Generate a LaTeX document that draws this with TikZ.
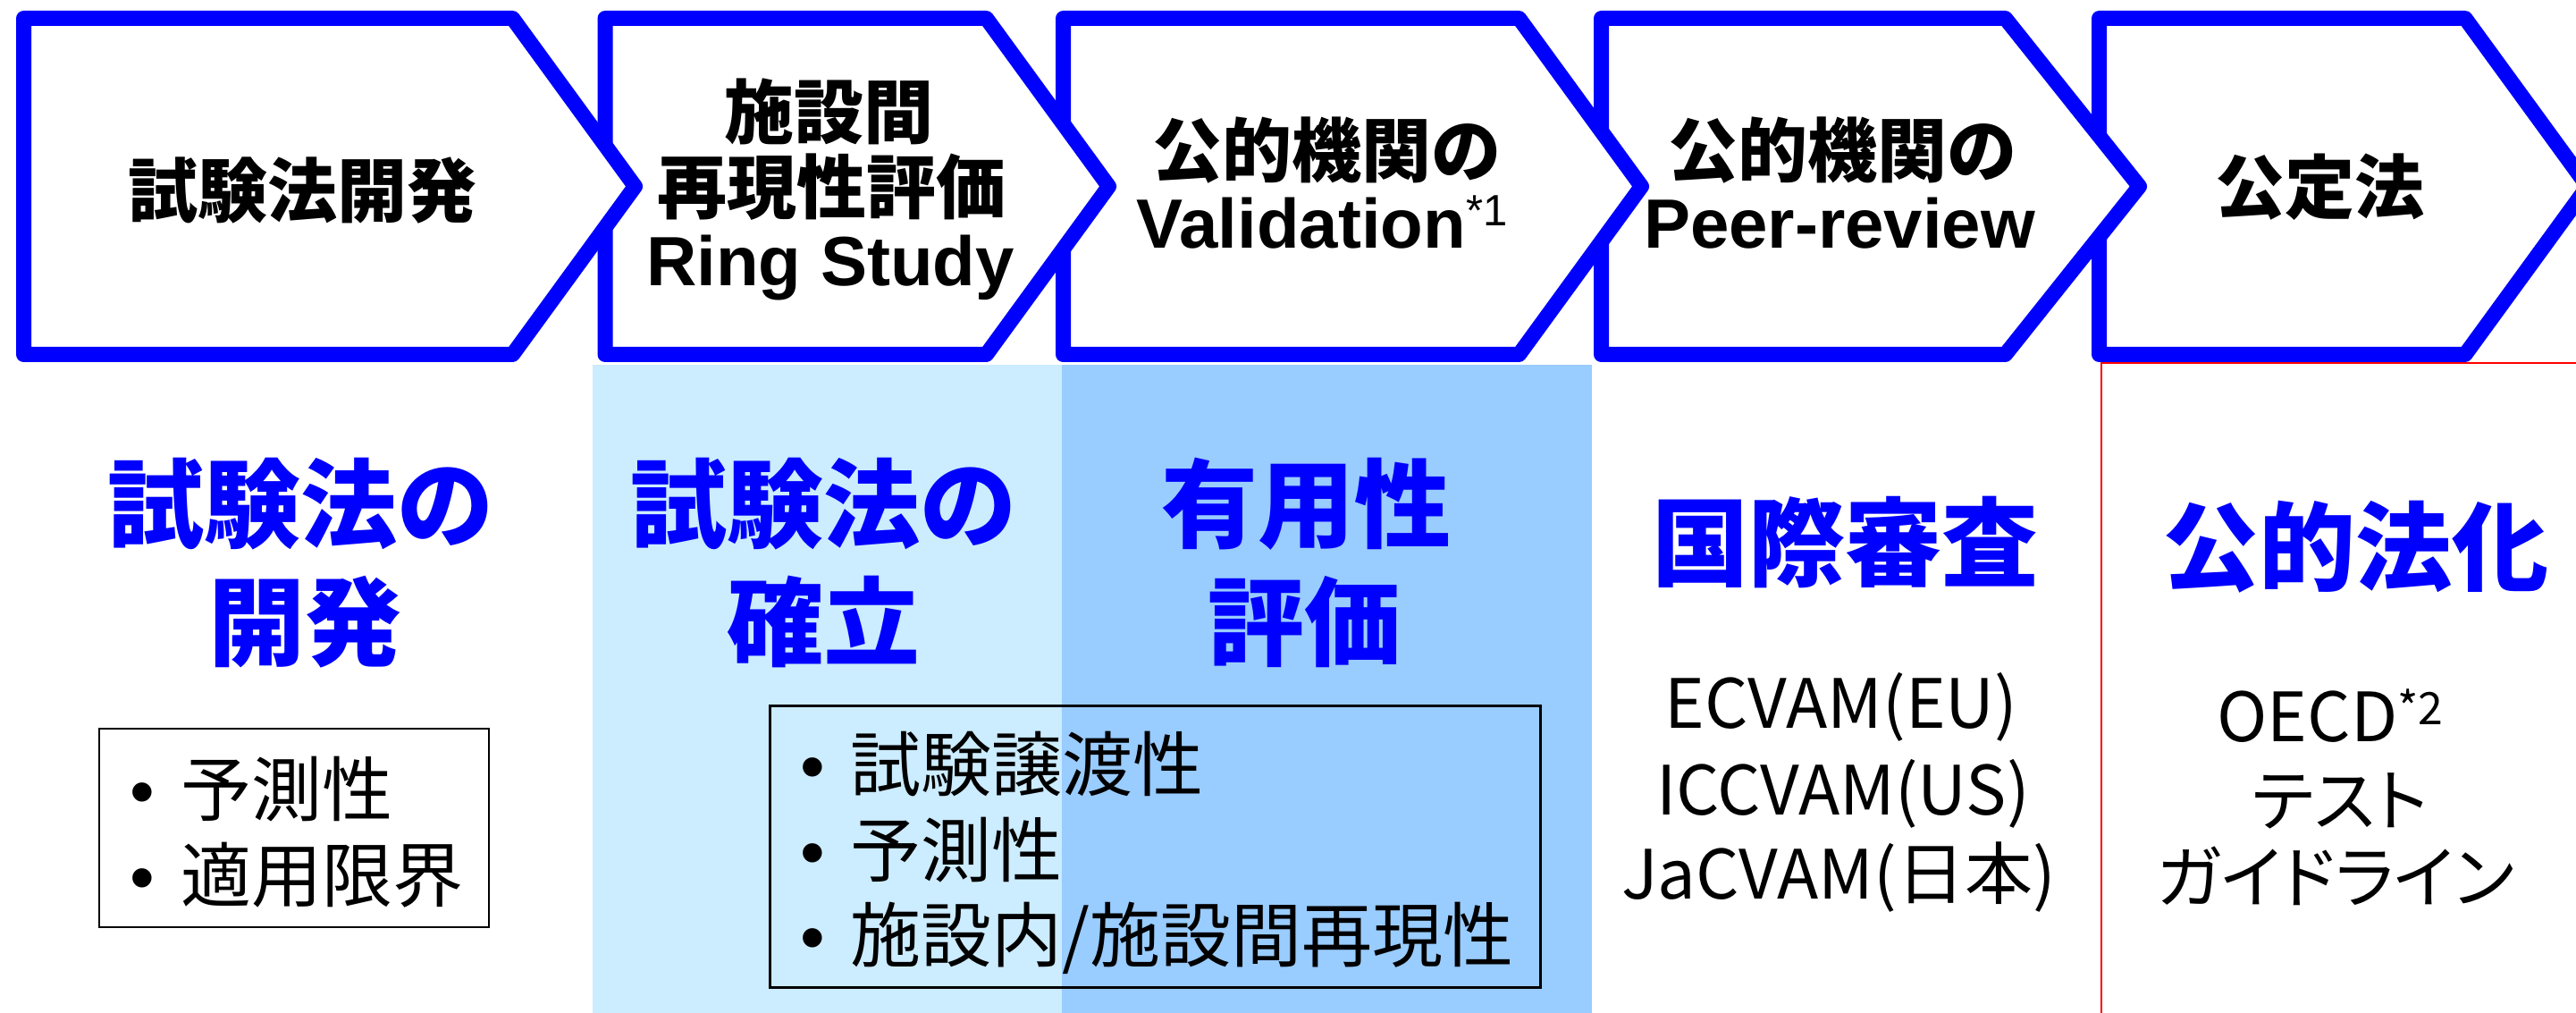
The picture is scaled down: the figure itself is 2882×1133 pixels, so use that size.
\documentclass[tikz,border=0pt]{standalone}
\usepackage{fontspec}
\setmainfont{Liberation Sans}
\newfontfamily\jp{Noto Sans CJK JP}
\newfontfamily\jpp{Noto Sans CJK JP}[RawFeature=+palt]
\definecolor{chevblue}{RGB}{0,0,255}
\definecolor{lightbg}{RGB}{204,236,255}
\definecolor{darkbg}{RGB}{153,204,255}
\newcommand\mychev[3]{\draw[chev] (#1,20.5) -- (#2,20.5) -- (#3,208.5) -- (#2,396.5) -- (#1,396.5) -- cycle;}
\tikzset{
  chev/.style={draw=chevblue, fill=white, line width=4.25pt, line join=round},
  hdjp/.style={anchor=base, inner sep=0pt, font=\jp\bfseries\fontsize{19.5pt}{20pt}\selectfont},
  hdlat/.style={anchor=base, inner sep=0pt, font=\bfseries\fontsize{19.5pt}{20pt}\selectfont},
  big/.style={anchor=base, inner sep=0pt, text=chevblue, font=\jp\bfseries\fontsize{27pt}{28pt}\selectfont},
  item/.style={anchor=base west, inner sep=0pt, font=\jp\fontsize{19.75pt}{20pt}\selectfont},
  bdot/.style={anchor=base, inner sep=0pt, font=\fontsize{19.75pt}{20pt}\selectfont},
  org/.style={anchor=base, inner sep=0pt, font=\jp\fontsize{19pt}{20pt}\selectfont},
  orgk/.style={anchor=base, inner sep=0pt, font=\jpp\fontsize{19pt}{20pt}\selectfont},
  listbox/.style={draw=black, fill=none, inner sep=0pt},
}
\begin{document}
\begin{tikzpicture}[x=0.25pt, y=-0.25pt]
\useasboundingbox (0,0) rectangle (2882,1133);
\clip (0,0) rectangle (2882,1133);
% backgrounds
\fill[lightbg] (662.5,408) rectangle (1188,1140);
\fill[darkbg] (1188,408) rectangle (1781,1140);
% red frame
\coordinate (r1) at (2351,1140);
\coordinate (r2) at (2351,406);
\coordinate (r3) at (2890,406);
\draw[red, line width=0.5pt] (r1) -- (r2) -- (r3);
% chevrons (right to left so the left one lies on top)
\mychev{2348.5}{2758}{2895}
\mychev{1791.5}{2243.5}{2393.5}
\mychev{1189.5}{1699.5}{1836.5}
\mychev{677}{1103.5}{1240.5}
\mychev{26.5}{573.5}{710.5}
% header texts
\node[hdjp] (h1) at (338,243) {試験法開発};
\node[hdjp] (h2a) at (927,155) {施設間};
\node[hdjp] (h2b) at (930,239) {再現性評価};
\node[hdlat] (h2c) at (929,320) {Ring Study};
\node[hdjp] (h3a) at (1484,198) {公的機関の};
\node[hdlat] (h3b) at (1479,278) {Validation\raisebox{6.25pt}{\mdseries\fontsize{12.25pt}{13pt}\selectfont *1}};
\node[hdjp] (h4a) at (2061,198) {公的機関の};
\node[hdlat] (h4b) at (2058,278) {Peer-review};
\node[hdjp] (h5) at (2595,239) {公定法};
% big blue texts
\node[big] (b1a) at (337,605) {試験法の};
\node[big] (b1b) at (341,737) {開発};
\node[big] (b2a) at (921,605) {試験法の};
\node[big] (b2b) at (921,737) {確立};
\node[big] (b3a) at (1461,605) {有用性};
\node[big] (b3b) at (1459,737) {評価};
\node[big] (b4) at (2064,648) {国際審査};
\node[big] (b5) at (2635,653) {公的法化};
% list boxes
\node[listbox, line width=0.625pt, minimum width=109pt, minimum height=55.5pt] (box1) at (329,926) {};
\node[listbox, line width=0.75pt, minimum width=215.5pt, minimum height=78.75pt] (box2) at (1292,946.5) {};
\node[bdot] (d11) at (159,912) {•};
\node[item] (i11) at (202,912) {予測性};
\node[bdot] (d12) at (159,1008) {•};
\node[item] (i12) at (202,1008) {適用限界};
\node[bdot] (d21) at (909,884) {•};
\node[item] (i21) at (951,884) {試験譲渡性};
\node[bdot] (d22) at (909,980) {•};
\node[item] (i22) at (951,980) {予測性};
\node[bdot] (d23) at (909,1075) {•};
\node[item] (i23) at (951,1075) {施設内/施設間再現性};
% organisations
\node[org] (o1) at (2060,815) {ECVAM(EU)};
\node[org] (o2) at (2062,911) {ICCVAM(US)};
\node[org] (o3) at (2057,1005) {JaCVAM(日本)};
\node[org] (g1) at (2607,830) {OECD\raisebox{5pt}{\fontsize{12.5pt}{13pt}\selectfont *2}};
\node[orgk] (g2) at (2618,923) {テスト};
\node[orgk] (g3) at (2613,1009) {ガイドライン};
\end{tikzpicture}
\end{document}
